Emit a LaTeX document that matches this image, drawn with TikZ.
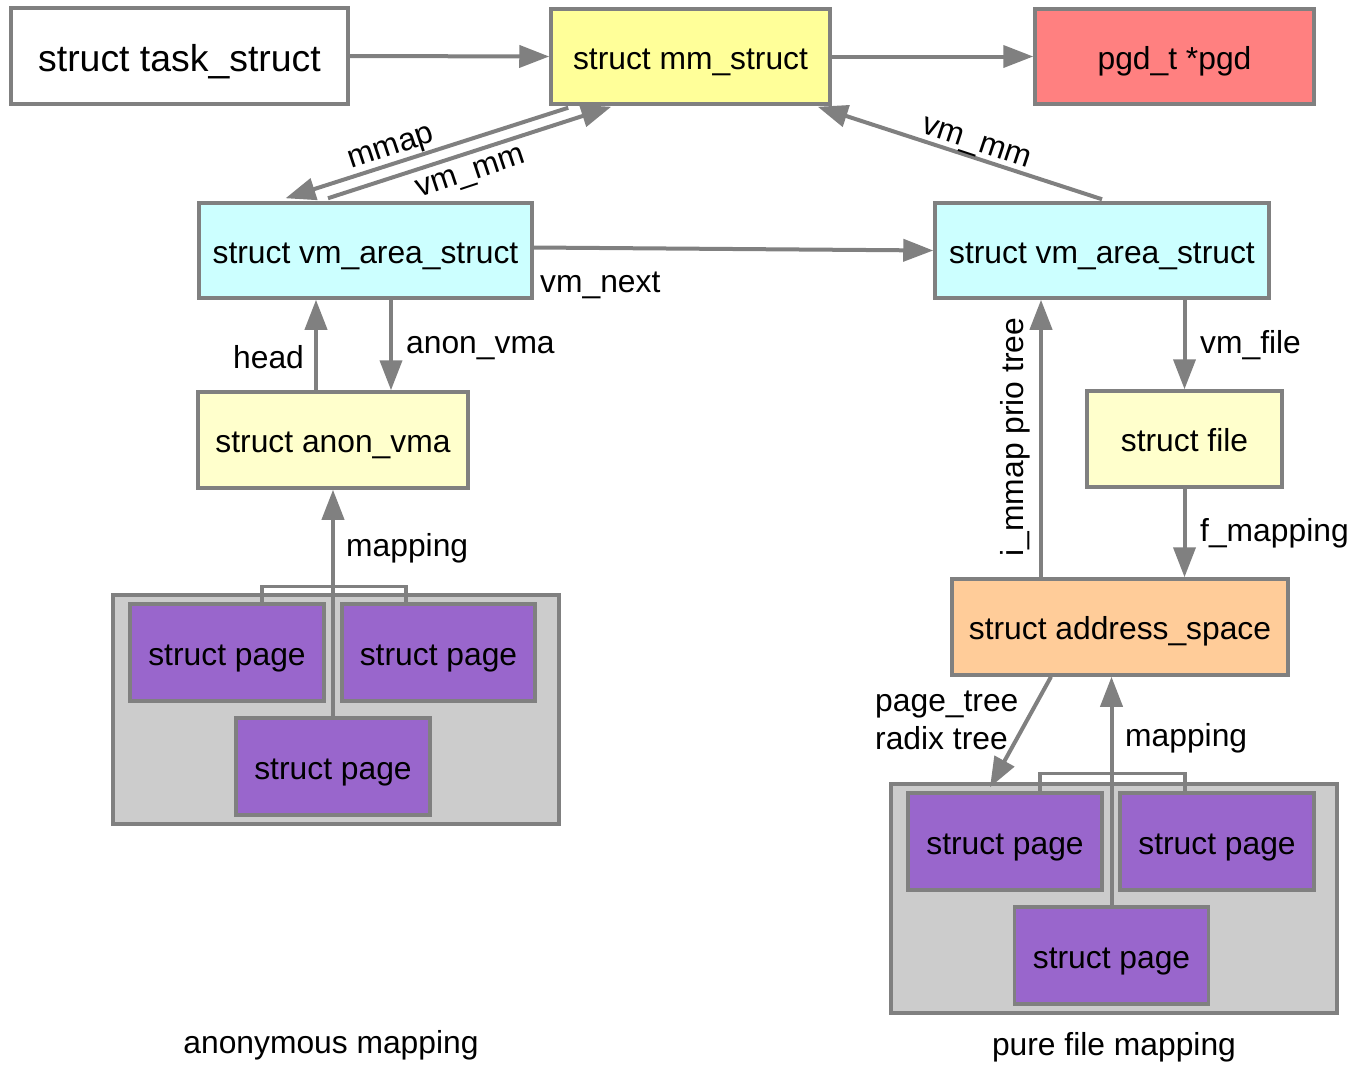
\documentclass[tikz,border=0pt]{standalone}
\usepackage{fontspec}
\setmainfont{Liberation Sans}
\usetikzlibrary{arrows.meta}
\definecolor{edge}{HTML}{808080}
\definecolor{mmfill}{HTML}{FFFF99}
\definecolor{pgdfill}{HTML}{FF8080}
\definecolor{vmafill}{HTML}{CCFFFF}
\definecolor{palefill}{HTML}{FFFFCC}
\definecolor{asfill}{HTML}{FFCC99}
\definecolor{groupfill}{HTML}{CCCCCC}
\definecolor{pagefill}{HTML}{9966CC}
\begin{document}
\begin{tikzpicture}[x=1pt,y=-1pt,
  txt/.style={font=\fontsize{31.8}{38}\selectfont},
  box/.style={txt, draw=edge, line width=3.5pt, inner sep=0pt, minimum height=96pt,
              text height=25.5pt, text depth=0pt},
  group/.style={draw=edge, line width=3.5pt, fill=groupfill, minimum width=446pt, minimum height=229pt, inner sep=0pt},
  pagebox/.style={box, fill=pagefill, minimum width=194pt, minimum height=97pt},
  lbl/.style={txt, inner sep=0pt},
  arr/.style={draw=edge, line width=4pt, -{Triangle[length=30pt,width=22pt]}},
  link/.style={draw=edge, line width=3.5pt}
]
\useasboundingbox (0,0) rectangle (1357,1066);

% top row
\node[box, fill=white, minimum width=337pt, font=\fontsize{37.4}{44}\selectfont, text height=31pt] (task) at (179.5,56) {struct task\_struct};
\node[box, fill=mmfill, minimum width=279pt, minimum height=95pt, text height=26.5pt] (mm) at (690.5,56.5) {struct mm\_struct};
\node[box, fill=pgdfill, minimum width=279pt, minimum height=95pt, text height=26.5pt] (pgd) at (1174.5,56.5) {pgd\_t *pgd};

% vm areas
\node[box, fill=vmafill, minimum width=333pt, minimum height=95pt] (vmaL) at (365.5,250.5) {struct vm\_area\_struct};
\node[box, fill=vmafill, minimum width=334pt, minimum height=95pt] (vmaR) at (1102,250.5) {struct vm\_area\_struct};

% anonymous side
\node[box, fill=palefill, minimum width=270pt] (anon) at (333,440) {struct anon\_vma};
\node[group] (grpL) at (336,709.5) {};
\node[pagebox] (pL1) at (227,652.5) {struct page};
\node[pagebox, minimum width=193pt] (pL2) at (438.5,652.5) {struct page};
\node[pagebox] (pL3) at (333,766.5) {struct page};

% file side
\node[box, fill=palefill, minimum width=195pt] (file) at (1184.5,439) {struct file};
\node[box, fill=asfill, minimum width=336pt] (as) at (1120,627) {struct address\_space};
\node[group] (grpR) at (1114,898.5) {};
\node[pagebox] (pR1) at (1005,841.5) {struct page};
\node[pagebox] (pR2) at (1217,841.5) {struct page};
\node[pagebox] (pR3) at (1111.5,955.5) {struct page};

% connectors
\draw[arr] (task.east) -- (mm.west);
\draw[arr] (mm.east) -- (pgd.west);
\draw[arr] ([xshift=19pt,yshift=-2pt]mm.south west) -- ([xshift=-80pt,yshift=3pt]vmaL.north);
\draw[arr] ([xshift=-37.5pt,yshift=3pt]vmaL.north) -- ([xshift=62pt,yshift=-1pt]mm.south west);
\draw[arr] ([yshift=2pt]vmaR.north) -- ([xshift=-14pt,yshift=-1pt]mm.south east);
\draw[arr] ([yshift=3pt]vmaL.east) -- (vmaR.west);
\draw[arr] ([xshift=-17pt]anon.north) -- ([xshift=-17pt]anon.north |- vmaL.south);
\draw[arr] ([xshift=25.5pt]vmaL.south) -- ([xshift=25.5pt]vmaL.south |- anon.north);
\draw[link] ([xshift=35pt]pL1.north) -- ++(0,-16) -| ([xshift=-32.5pt]pL2.north);
\draw[arr] (pL3.north) -- (pL3.north |- anon.south);

\draw[arr] (file.north |- vmaR.south) -- (file.north);
\draw[arr] (file.south) -- (file.south |- as.north);
\draw[arr] ([xshift=-79pt]as.north) -- ([xshift=-79pt]as.north |- vmaR.south);
\draw[arr] ([xshift=-69pt]as.south) -- ([xshift=-15pt,yshift=4pt]pR1.north);
\draw[link] ([xshift=35pt]pR1.north) -- ++(0,-18) -| ([xshift=-32pt]pR2.north);
\draw[arr] (pR3.north) -- (pR3.north |- as.south);

% labels
\node[lbl, rotate=18.4] (lmmap) at (392,150) {mmap};
\node[lbl, rotate=18.4] (lvmmL) at (471,175) {vm\_mm};
\node[lbl, rotate=-18.4] (lvmmR) at (976,145) {vm\_mm};
\node[lbl, anchor=base west] (lnext) at (540,292) {vm\_next};
\node[lbl, anchor=base west] (lhead) at (233,368) {head};
\node[lbl, anchor=base west] (lanon) at (406,353) {anon\_vma};
\node[lbl, anchor=base west] (lmapL) at (346,556) {mapping};
\node[lbl, anchor=base west] (lfile) at (1200,353) {vm\_file};
\node[lbl, anchor=base west] (lfmap) at (1200,541) {f\_mapping};
\node[lbl, rotate=90, anchor=base] (lprio) at (1023,437) {i\_mmap prio tree};
\node[lbl, anchor=base west] (ltree1) at (875,711) {page\_tree};
\node[lbl, anchor=base west] (ltree2) at (875,749) {radix tree};
\node[lbl, anchor=base west] (lmapR) at (1125,746) {mapping};
\node[lbl, anchor=base] (capL) at (331,1053) {anonymous mapping};
\node[lbl, anchor=base] (capR) at (1114,1055) {pure file mapping};
\end{tikzpicture}
\end{document}
